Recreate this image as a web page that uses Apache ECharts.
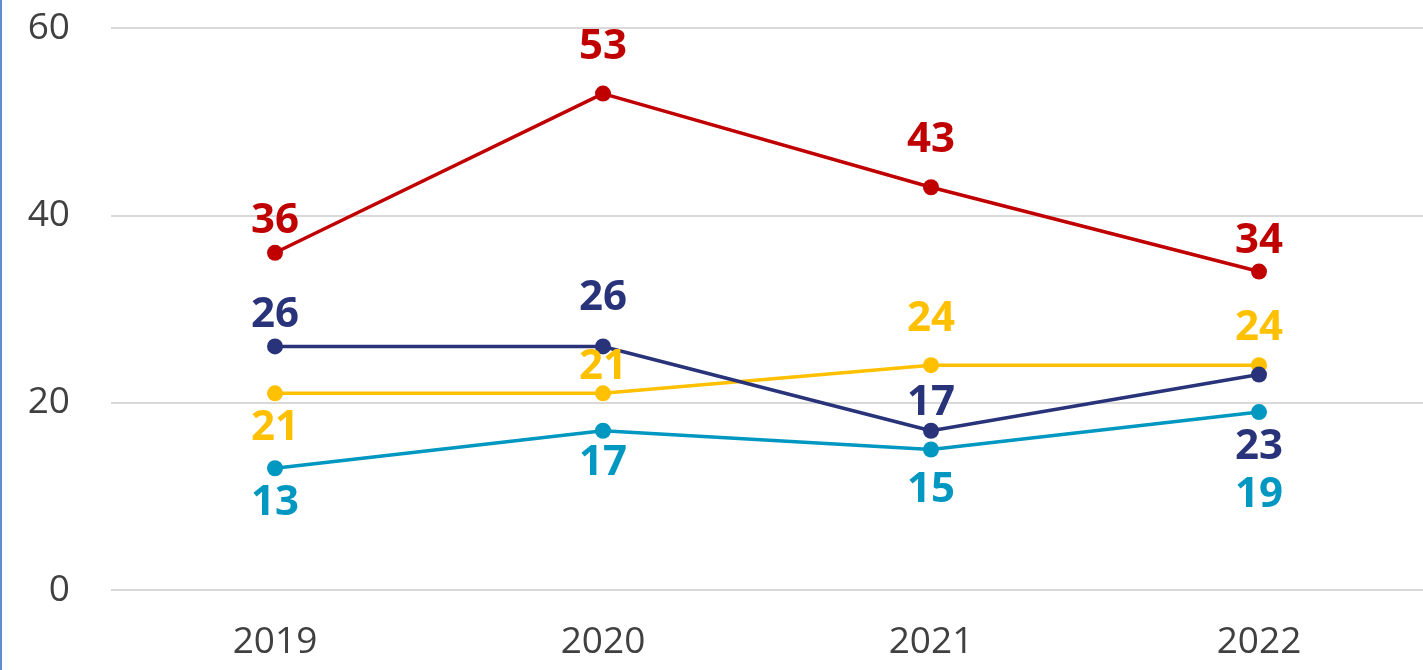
<!DOCTYPE html>
<html>
<head>
<meta charset="utf-8">
<script src="https://cdn.jsdelivr.net/npm/echarts@6/dist/echarts.min.js"></script>
<style>
  html, body { margin: 0; padding: 0; background: #fff; }
  #main { position: absolute; left: 0; top: 0; width: 1423px; height: 670px; }
  .edge { position: absolute; left: 0; top: 0; width: 2px; height: 670px; background: #5B8FD0; }
</style>
</head>
<body>
<div id="main"></div>
<div class="edge"></div>
<script>
	// 年份
	var years = ['2019', '2020', '2021', '2022'];
	// 各系列数值
	var redValues = [36, 53, 43, 34];
	var yellowValues = [21, 21, 24, 24];
	var navyValues = [26, 26, 17, 23];
	var tealValues = [13, 17, 15, 19];
	// y 轴刻度
	var yTicks = [0, 20, 40, 60];

	// 数据标签位置（相对点的偏移，负数=上方）
	var redLabelPos = [-32, -47, -47, -31];
	var yellowLabelPos = [35, -26, -46, -37];
	var navyLabelPos = [-31, -48, -28, 72];
	var tealLabelPos = [35, 32, 41, 83];

	var chart = echarts.init(document.getElementById('main'));

	function makeSeries(name, values, color, labelPos) {
		return {
			name: name,
			type: 'line',
			symbol: 'circle',
			symbolSize: 16,
			lineStyle: { color: color, width: 3.5 },
			itemStyle: { color: color },
			data: values.map(function (v, i) {
				return {
					value: v,
					label: {
						show: true,
						position: 'inside',
						offset: [0, labelPos[i]],
						color: color,
						fontSize: 42,
						fontWeight: 'bold',
						fontFamily: 'Open Sans'
					}
				};
			})
		};
	}

	var option = {
		animation: false,
		grid: {
			left: 111,
			top: 28,
			width: 1316,
			height: 562
		},
		xAxis: {
			type: 'category',
			data: years,
			axisLine: { show: false },
			axisTick: { show: false },
			axisLabel: {
				margin: 34,
				fontSize: 37,
				color: '#404040',
				fontFamily: 'Open Sans'
			}
		},
		yAxis: {
			type: 'value',
			min: yTicks[0],
			max: yTicks[yTicks.length - 1],
			interval: 20,
			axisLine: { show: false },
			axisTick: { show: false },
			axisLabel: {
				margin: 41,
				fontSize: 37,
				color: '#404040',
				fontFamily: 'Open Sans'
			},
			splitLine: { lineStyle: { color: '#D9D9D9', width: 2 } }
		},
		series: [
			makeSeries('yellow', yellowValues, '#FFC000', yellowLabelPos),
			makeSeries('navy', navyValues, '#29337A', navyLabelPos),
			makeSeries('teal', tealValues, '#0097C1', tealLabelPos),
			makeSeries('red', redValues, '#C00000', redLabelPos)
		]
	};
	chart.setOption(option);
</script>
</body>
</html>
